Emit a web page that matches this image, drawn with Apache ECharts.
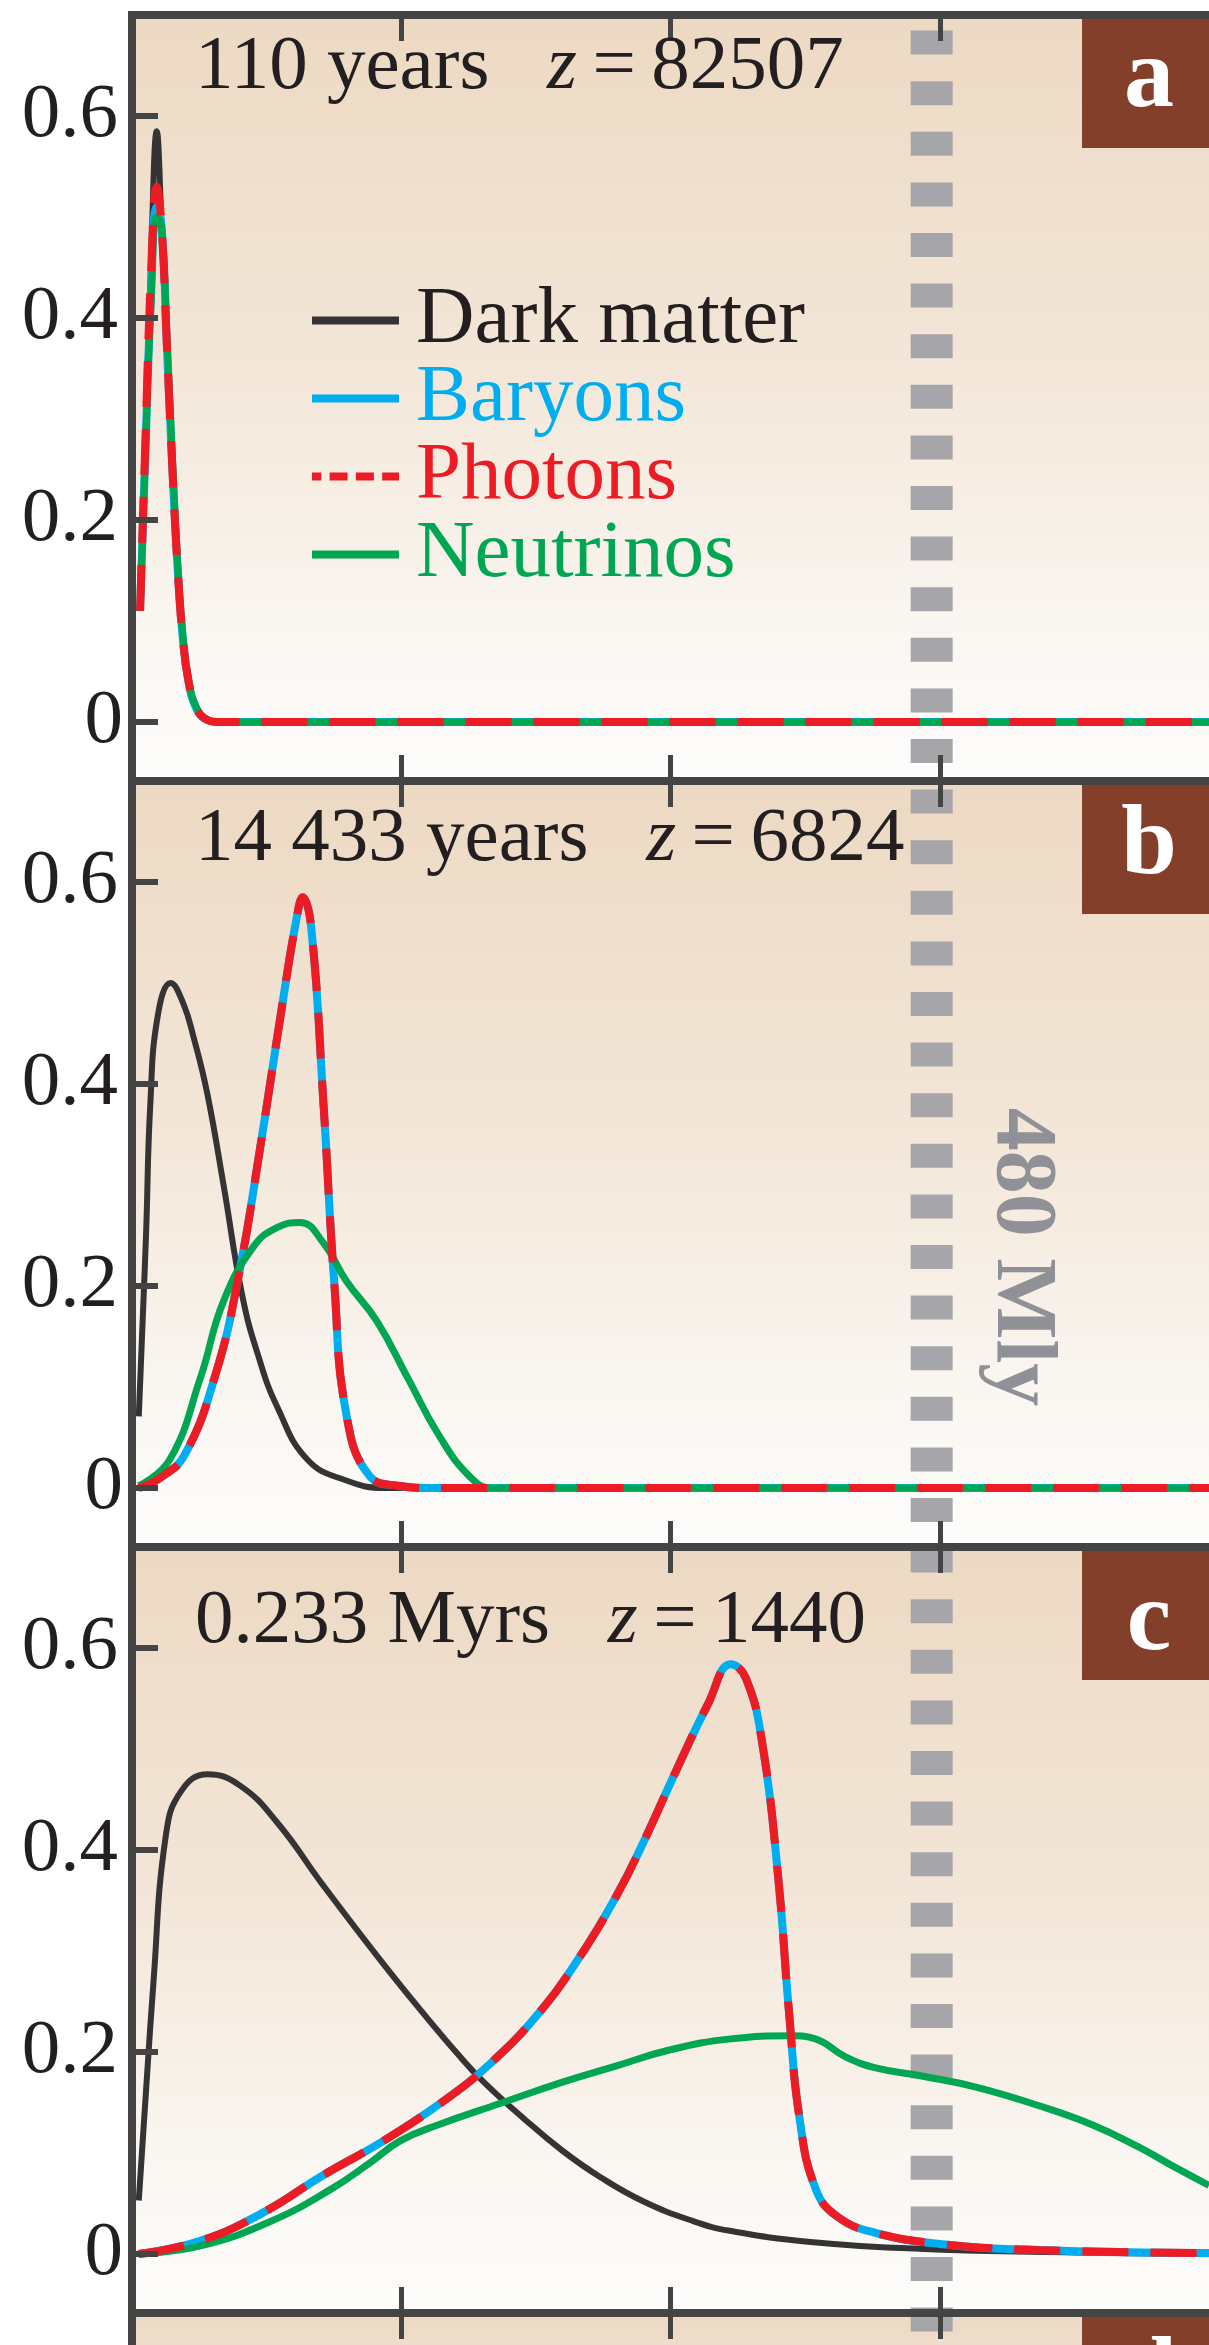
<!DOCTYPE html>
<html>
<head>
<meta charset="utf-8">
<script src="https://cdn.jsdelivr.net/npm/echarts@6/dist/echarts.min.js"></script>
<style>
  html, body { margin: 0; padding: 0; background: #ffffff; }
  #chart { width: 1209px; height: 2345px; }
</style>
</head>
<body>
<div id="chart"></div>
<script>
// ---- labels and ticks ----
const seriesNames = ['Dark matter', 'Baryons', 'Photons', 'Neutrinos'];
const panelLetters = ['a', 'b', 'c', 'd'];
const panelAges = ['110 years', '14 433 years', '0.233 Myrs'];
const panelRedshifts = ['82507', '6824', '1440'];
const radiusTicks = [50, 100, 150];
const densityTicks = [0, 0.2, 0.4, 0.6];
const horizonRadius = 148.5;
const horizonLabel = '480 Mly';

// ---- panel a : 110 years ----
const radiusA     = [1.5, 2.5, 3.5, 4.6, 5.5, 6.5, 7.6, 8.5, 9.4, 10.5, 12, 14, 16, 200];
const darkMatterA = [0.11, 0.28, 0.45, 0.585, 0.49, 0.37, 0.24, 0.15, 0.085, 0.04, 0.013, 0.002, 0, 0];
const baryonsA    = [0.11, 0.27, 0.42, 0.51, 0.49, 0.37, 0.24, 0.15, 0.085, 0.04, 0.013, 0.002, 0, 0];
const photonsA    = [0.11, 0.28, 0.44, 0.53, 0.49, 0.37, 0.24, 0.15, 0.085, 0.04, 0.013, 0.002, 0, 0];
const neutrinosA  = [0.11, 0.27, 0.41, 0.50, 0.49, 0.38, 0.25, 0.155, 0.088, 0.042, 0.014, 0.002, 0, 0];

// ---- panel b : 14 433 years ----
const radiusDarkB   = [1.26, 2.6, 3.4, 4.8, 7.2, 9.5, 11.5, 14, 17, 20.5, 23.5, 27, 32.6, 39.8, 47, 200];
const darkMatterB   = [0.071, 0.25, 0.38, 0.468, 0.5, 0.48, 0.445, 0.39, 0.3, 0.19, 0.13, 0.08, 0.028, 0.0074, 0, 0];
const radiusPlasmaB = [1.26, 5.2, 9.8, 15.6, 19.8, 24.1, 27.6, 30.6, 31.7, 33.3, 35.6, 37.6, 39.8, 44.1, 49.8, 55, 200];
const baryonsB      = [0, 0.01, 0.033, 0.114, 0.21, 0.347, 0.468, 0.565, 0.585, 0.554, 0.377, 0.2, 0.073, 0.012, 0.002, 0, 0];
const photonsB      = [0, 0.01, 0.033, 0.114, 0.21, 0.347, 0.468, 0.565, 0.585, 0.554, 0.377, 0.2, 0.073, 0.012, 0.002, 0, 0];
const radiusNuB     = [1.26, 7.0, 12.7, 17.0, 22.7, 27.0, 31.2, 35.5, 39.8, 45.5, 51.2, 56.9, 62.6, 66.9, 200];
const neutrinosB    = [0.002, 0.028, 0.109, 0.185, 0.24, 0.258, 0.263, 0.243, 0.205, 0.165, 0.109, 0.053, 0.012, 0, 0];

// ---- panel c : 0.233 Myrs ----
const radiusDarkC   = [1.26, 4.0, 6.3, 9.1, 14, 20, 27, 35.5, 47, 56, 60, 65, 73, 80, 87, 95, 104, 111, 126, 147, 175, 200];
const darkMatterC   = [0.053, 0.27, 0.415, 0.458, 0.475, 0.464, 0.427, 0.365, 0.285, 0.226, 0.201, 0.172, 0.133, 0.102, 0.076, 0.052, 0.033, 0.023, 0.012, 0.005, 0.0015, 0];
const radiusPlasmaC = [1.26, 12.7, 24, 35.5, 47, 58, 66, 75, 83, 90, 95, 101, 107, 111.2, 114, 117, 120, 122, 124, 127, 131, 138, 150, 168, 200];
const baryonsC      = [0, 0.013, 0.04, 0.078, 0.113, 0.152, 0.186, 0.235, 0.293, 0.355, 0.408, 0.478, 0.545, 0.584, 0.57, 0.507, 0.373, 0.24, 0.133, 0.064, 0.037, 0.021, 0.01, 0.004, 0.001];
const photonsC      = [0, 0.013, 0.04, 0.078, 0.113, 0.152, 0.186, 0.235, 0.293, 0.355, 0.408, 0.478, 0.545, 0.584, 0.57, 0.507, 0.373, 0.24, 0.133, 0.064, 0.037, 0.021, 0.01, 0.004, 0.001];
const radiusNuC     = [1.26, 12.7, 25.6, 36.9, 44.1, 49.8, 56.9, 68.3, 79.8, 89.8, 99.8, 111.2, 122.6, 126.9, 132.6, 138.3, 146.9, 156.9, 168.3, 178.3, 186.9, 194, 200];
const neutrinosC    = [0, 0.008, 0.032, 0.064, 0.09, 0.112, 0.128, 0.149, 0.17, 0.186, 0.202, 0.213, 0.216, 0.213, 0.195, 0.184, 0.176, 0.165, 0.147, 0.128, 0.106, 0.085, 0.068];

// ---- layout ----
const SERIF = '"Liberation Serif", "DejaVu Serif", serif';
const PANEL_TOP = 15, PANEL_H = 766, PLOT_LEFT = 132, PLOT_W = 1080;
const FRAME = '#444444';
const speciesStyle = {
  'Dark matter': { color: '#353334', width: 6 },
  'Baryons':     { color: '#00aeef', width: 8 },
  'Photons':     { color: '#ed1c24', width: 8, type: [46, 22] },
  'Neutrinos':   { color: '#00a651', width: 7 }
};
const labelColors = ['#231f20', '#00aeef', '#ed1c24', '#00a651'];

const panels = [
  { 'Dark matter': [radiusA, darkMatterA], 'Baryons': [radiusA, baryonsA],
    'Neutrinos': [radiusA, neutrinosA], 'Photons': [radiusA, photonsA] },
  { 'Dark matter': [radiusDarkB, darkMatterB], 'Baryons': [radiusPlasmaB, baryonsB],
    'Neutrinos': [radiusNuB, neutrinosB], 'Photons': [radiusPlasmaB, photonsB] },
  { 'Dark matter': [radiusDarkC, darkMatterC], 'Baryons': [radiusPlasmaC, baryonsC],
    'Neutrinos': [radiusNuC, neutrinosC], 'Photons': [radiusPlasmaC, photonsC] },
  null
];
const drawOrder = ['Dark matter', 'Baryons', 'Neutrinos', 'Photons'];

const zip = (xs, ys) => xs.map((x, k) => [x, ys[k]]);

const panelFill = {
  type: 'linear', x: 0, y: 0, x2: 0, y2: 1,
  colorStops: [
    { offset: 0, color: '#ecd9c3' },
    { offset: 0.45, color: '#f3e6d8' },
    { offset: 0.8, color: '#faf6f1' },
    { offset: 1, color: '#fdfdfc' }
  ]
};

const grids = [], xAxes = [], yAxes = [], series = [];
for (let i = 0; i < 4; i++) {
  grids.push({
    left: PLOT_LEFT, top: PANEL_TOP + i * PANEL_H, width: PLOT_W, height: PANEL_H,
    show: true, borderWidth: 0, backgroundColor: panelFill
  });
  ['bottom', 'top'].forEach(pos => {
    xAxes.push({
      gridIndex: i, type: 'value', min: 0, max: 200, position: pos, z: 3,
      axisLine: { show: true, onZero: false, lineStyle: { color: FRAME, width: 8, cap: 'square' } },
      axisTick: { show: true, inside: true, length: 26, customValues: radiusTicks,
                  lineStyle: { color: FRAME, width: 5 } },
      axisLabel: { show: false },
      splitLine: { show: false }
    });
  });
  yAxes.push({
    gridIndex: i, type: 'value', min: -0.0584, max: 0.7, z: 3,
    axisLine: { show: true, onZero: false, lineStyle: { color: FRAME, width: 8, cap: 'square' } },
    axisTick: { show: true, inside: true, length: 26, customValues: densityTicks,
                lineStyle: { color: FRAME, width: 6 } },
    axisLabel: {
      show: true, customValues: densityTicks, margin: 9,
      formatter: v => v === 0 ? '{z|0}' : '{d|' + v.toFixed(1) + '}',
      rich: {
        z: { fontFamily: SERIF, fontSize: 77, color: '#231f20' },
        d: { fontFamily: SERIF, fontSize: 77, color: '#231f20', padding: [0, 5, 0, 0] }
      }
    },
    splitLine: { show: false }
  });
  const p = panels[i];
  if (!p) continue;
  drawOrder.forEach(name => {
    const st = speciesStyle[name];
    series.push({
      type: 'line', name: name, xAxisIndex: 2 * i, yAxisIndex: i,
      data: zip(p[name][0], p[name][1]),
      smooth: 0.45, symbol: 'none', silent: true, z: 2,
      lineStyle: { color: st.color, width: st.width, type: st.type || 'solid', cap: 'butt' },
      itemStyle: { color: st.color }
    });
  });
}

const chart = echarts.init(document.getElementById('chart'), null, { renderer: 'canvas', width: 1209, height: 2345 });
chart.setOption({
  animation: false,
  backgroundColor: '#ffffff',
  grid: grids, xAxis: xAxes, yAxis: yAxes, series: series,
  legend: {
    orient: 'vertical', left: 303, top: 275, itemWidth: 87, itemHeight: 8, itemGap: -3,
    selectedMode: false,
    textStyle: { fontFamily: SERIF, fontSize: 81, lineHeight: 55, padding: [0, 0, 0, 12] },
    data: seriesNames.map((n, k) => ({
      name: n,
      textStyle: { color: labelColors[k] },
      itemStyle: { opacity: 0 },
      lineStyle: n === 'Photons' ? { width: 8, type: [18, 8.3] } : { width: 8 }
    }))
  }
});

// annotations: panel titles, panel letters, horizon line
const horizonX = chart.convertToPixel({ xAxisIndex: 0 }, horizonRadius);
const letterCenter = [65, 66, 76, 66];
const graphics = [];
graphics.push({
  type: 'line', silent: true, z: 1,
  shape: { x1: horizonX, y1: PANEL_TOP, x2: horizonX, y2: 2345 },
  style: { stroke: '#a6a6aa', lineWidth: 42, lineDash: [24, 26.6], lineDashOffset: 35 }
});
graphics.push({
  type: 'text', silent: true, z: 1, x: horizonX + 89, y: 1257, rotation: -Math.PI / 2,
  style: { text: horizonLabel, font: 'bold 86px ' + SERIF, fill: '#909197', align: 'center', verticalAlign: 'middle' }
});
for (let i = 0; i < 4; i++) {
  const top = PANEL_TOP + i * PANEL_H;
  graphics.push({
    type: 'rect', silent: true, z: 2,
    shape: { x: 1082, y: top, width: 134, height: 133 },
    style: { fill: '#843f2b' }
  });
  graphics.push({
    type: 'text', silent: true, z: 2, x: 1149, y: top + letterCenter[i],
    style: { text: panelLetters[i], font: 'bold 100px ' + SERIF, fill: '#ffffff', align: 'center', verticalAlign: 'middle' }
  });
  if (i < 3) {
    const titleBaseline = [79, 85, 101][i];
    graphics.push({
      type: 'text', silent: true, z: 4, x: 195, y: top + titleBaseline - 26,
      style: {
        text: '{r|' + panelAges[i] + '   }{i|z}{r|\u2009=\u2009' + panelRedshifts[i] + '}',
        align: 'left', verticalAlign: 'middle',
        rich: {
          r: { fontFamily: SERIF, fontSize: 77, fill: '#231f20', color: '#231f20' },
          i: { fontFamily: SERIF, fontSize: 77, fontStyle: 'italic', fill: '#231f20', color: '#231f20' }
        }
      }
    });
  }
}
chart.setOption({ graphic: graphics });
</script>
</body>
</html>
